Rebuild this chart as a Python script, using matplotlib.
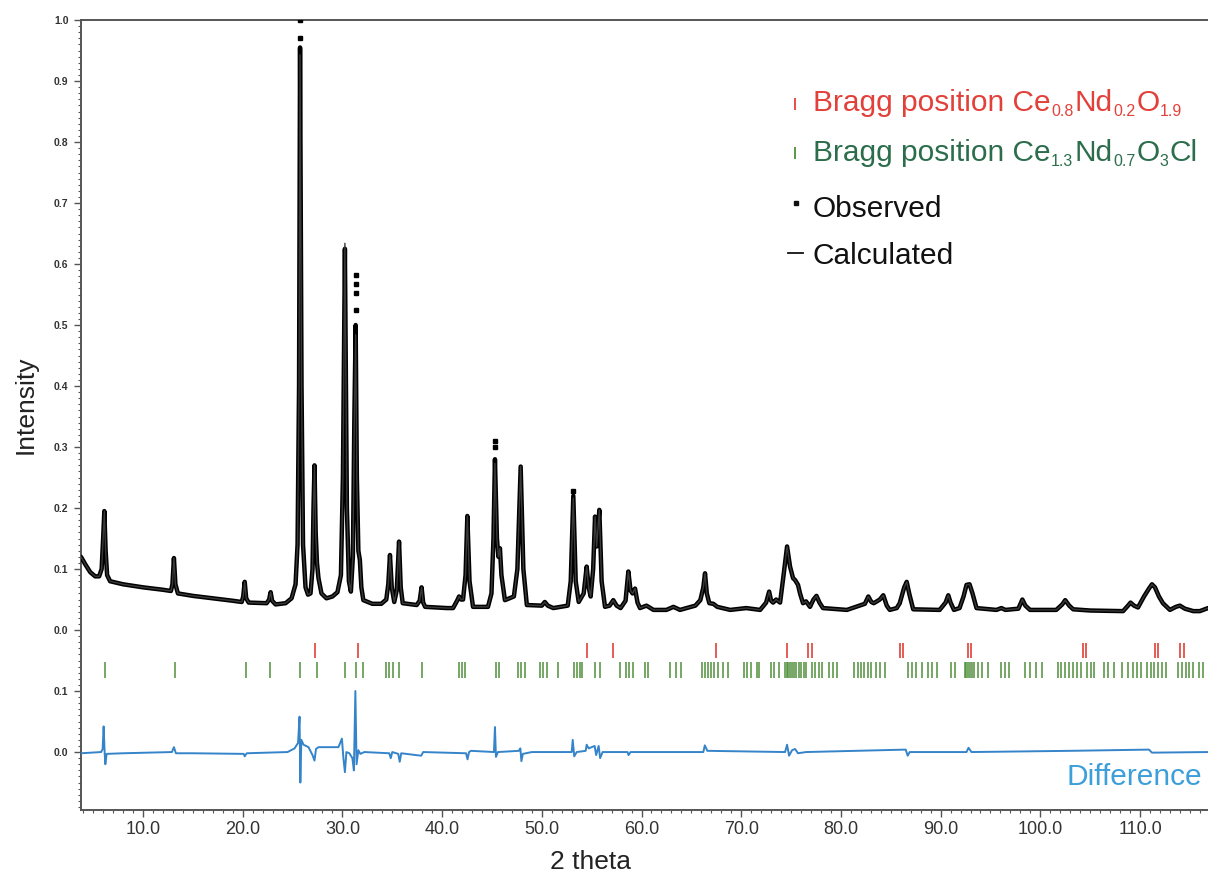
import matplotlib
matplotlib.use("Agg")
import matplotlib.pyplot as plt
from matplotlib.ticker import MultipleLocator, FixedLocator, FixedFormatter
import numpy as np

plt.rcParams['font.family'] = ['Liberation Sans', 'DejaVu Sans']

# ---------------- data ----------------
two_theta = [3.78, 4.2, 4.7, 5.2, 5.6, 5.85, 6.0, 6.12, 6.25, 6.4, 6.7, 8.0, 10.0, 12.0, 12.8, 12.95,
             13.1, 13.25, 13.5, 15.0, 17.0, 19.0, 19.9, 20.05, 20.2, 20.35, 20.6, 22.4, 22.65, 22.8,
             22.95, 23.3, 24.3, 24.9, 25.3, 25.5, 25.65, 25.75, 25.9, 26.05, 26.3, 26.55, 26.8, 27.0,
             27.1, 27.2, 27.32, 27.45, 27.6, 27.9, 28.4, 29.0, 29.5, 29.85, 30.05, 30.25, 30.45, 30.65,
             30.85, 31.05, 31.2, 31.33, 31.45, 31.6, 31.75, 31.9, 32.1, 33.0, 33.9, 34.4, 34.6, 34.77,
             34.95, 35.2, 35.45, 35.68, 35.85, 36.05, 37.45, 37.75, 37.94, 38.1, 38.3, 40.5, 41.1, 41.5,
             41.7, 41.9, 42.1, 42.35, 42.53, 42.75, 43.1, 44.6, 44.95, 45.15, 45.3, 45.5, 45.65, 45.8,
             45.95, 46.3, 47.2, 47.55, 47.88, 48.15, 48.5, 50.0, 50.3, 50.6, 51.15, 52.6, 52.9, 53.16,
             53.4, 53.7, 54.2, 54.5, 54.7, 54.9, 55.15, 55.34, 55.5, 55.77, 56.0, 56.34, 56.8, 57.17,
             57.5, 57.9, 58.4, 58.68, 58.9, 59.1, 59.35, 59.6, 59.85, 60.5, 61.2, 62.5, 63.2, 63.86,
             65.4, 65.9, 66.2, 66.37, 66.55, 66.8, 67.2, 67.6, 68.9, 70.5, 71.9, 72.5, 72.8, 73.0,
             73.2, 73.5, 73.9, 74.25, 74.6, 74.9, 75.2, 75.4, 75.7, 75.9, 76.2, 76.5, 76.9, 77.25,
             77.55, 77.85, 78.2, 80.6, 82.4, 82.75, 83.05, 83.3, 83.9, 84.25, 84.6, 84.9, 85.6, 85.9,
             86.35, 86.6, 86.85, 87.25, 89.9, 90.5, 90.77, 91.0, 91.34, 91.9, 92.3, 92.6, 92.9, 93.2,
             93.6, 95.6, 96.1, 96.5, 97.8, 98.2, 98.5, 98.97, 101.6, 102.2, 102.5, 102.9, 103.3, 105.0,
             108.3, 108.8, 109.05, 109.4, 109.8, 110.4, 110.9, 111.2, 111.5, 111.9, 112.3, 113.0, 113.6,
             114.0, 114.5, 115.35, 116.0, 116.82]

calculated = [0.120, 0.108, 0.095, 0.088, 0.088, 0.100, 0.150, 0.195, 0.130, 0.090, 0.080, 0.075, 0.070,
              0.066, 0.064, 0.075, 0.118, 0.075, 0.060, 0.056, 0.052, 0.048, 0.046, 0.055, 0.079, 0.052,
              0.045, 0.044, 0.050, 0.062, 0.048, 0.042, 0.044, 0.052, 0.075, 0.140, 0.400, 0.943, 0.400,
              0.140, 0.070, 0.058, 0.060, 0.100, 0.200, 0.270, 0.160, 0.110, 0.085, 0.060, 0.052, 0.055,
              0.062, 0.090, 0.250, 0.634, 0.200, 0.080, 0.063, 0.120, 0.350, 0.484, 0.250, 0.130, 0.115,
              0.070, 0.049, 0.043, 0.043, 0.050, 0.075, 0.123, 0.070, 0.046, 0.065, 0.145, 0.070, 0.044,
              0.041, 0.048, 0.070, 0.045, 0.038, 0.036, 0.036, 0.048, 0.055, 0.050, 0.050, 0.090, 0.187,
              0.080, 0.038, 0.038, 0.060, 0.150, 0.273, 0.150, 0.120, 0.134, 0.090, 0.049, 0.055, 0.100,
              0.268, 0.100, 0.041, 0.040, 0.046, 0.040, 0.036, 0.040, 0.080, 0.216, 0.080, 0.046, 0.060,
              0.104, 0.070, 0.055, 0.100, 0.186, 0.137, 0.197, 0.080, 0.038, 0.040, 0.049, 0.040, 0.036,
              0.048, 0.096, 0.065, 0.060, 0.068, 0.045, 0.036, 0.040, 0.033, 0.033, 0.038, 0.033, 0.040,
              0.049, 0.070, 0.093, 0.060, 0.044, 0.043, 0.038, 0.033, 0.036, 0.033, 0.045, 0.063, 0.048,
              0.045, 0.050, 0.045, 0.090, 0.137, 0.104, 0.085, 0.082, 0.074, 0.060, 0.044, 0.047, 0.038,
              0.050, 0.056, 0.045, 0.036, 0.033, 0.043, 0.055, 0.046, 0.044, 0.050, 0.057, 0.040, 0.033,
              0.036, 0.044, 0.070, 0.079, 0.060, 0.034, 0.033, 0.045, 0.057, 0.045, 0.033, 0.036, 0.055,
              0.074, 0.075, 0.060, 0.036, 0.033, 0.036, 0.033, 0.035, 0.050, 0.040, 0.033, 0.033, 0.042,
              0.049, 0.040, 0.034, 0.032, 0.031, 0.040, 0.045, 0.040, 0.037, 0.055, 0.068, 0.075, 0.070,
              0.055, 0.044, 0.033, 0.038, 0.040, 0.035, 0.031, 0.031, 0.036]

# observed intensities: same sampling, differ from calculated at several peak tops
observed = list(calculated)
obs_tops = {25.75: 0.955, 30.25: 0.625, 31.33: 0.50, 45.3: 0.28, 53.16: 0.22}
for k, v in obs_tops.items():
    observed[two_theta.index(k)] = v
extra_obs_x = [25.75, 25.75, 31.33, 31.33, 31.33, 31.33, 45.3, 45.3, 53.16]
extra_obs_y = [1.0, 0.97, 0.582, 0.567, 0.552, 0.525, 0.30, 0.31, 0.228]

diff_theta = [3.78, 5.8, 5.95, 6.05, 6.15, 6.22, 6.35, 8.0, 12.9, 13.1, 13.3, 15.0, 20.1, 20.2, 20.4,
              24.5, 25.2, 25.55, 25.7, 25.78, 25.88, 26.1, 26.6, 27.0, 27.2, 27.35, 27.6, 29.6, 29.95,
              30.1, 30.25, 30.4, 30.7, 31.0, 31.15, 31.3, 31.42, 31.6, 31.8, 32.2, 34.7, 34.85, 35.0,
              35.6, 35.75, 35.9, 37.9, 38.1, 42.4, 42.55, 42.7, 42.9, 45.2, 45.3, 45.4, 45.6, 47.7,
              47.85, 47.95, 48.1, 49.0, 53.0, 53.1, 53.25, 53.5, 54.4, 54.5, 54.7, 55.3, 55.45, 55.7,
              55.85, 56.1, 58.6, 58.7, 58.9, 66.2, 66.35, 66.6, 74.4, 74.6, 74.8, 75.1, 75.4, 75.7,
              76.5, 86.5, 86.7, 86.9, 92.6, 92.8, 93.1, 103.0, 110.9, 111.2, 116.82]
difference = [-0.002, 0.0, 0.005, 0.042, 0.0, -0.02, -0.003, -0.002, 0.0, 0.008, -0.002, -0.002, -0.003,
              -0.007, -0.002, 0.0, 0.006, 0.015, 0.058, -0.05, 0.02, 0.012, 0.008, -0.005, -0.014, 0.005,
              0.008, 0.008, 0.022, -0.01, -0.033, 0.0, -0.002, -0.01, -0.03, 0.1, -0.02, 0.003, -0.003,
              0.0, -0.002, -0.01, 0.0, -0.003, -0.016, -0.002, -0.006, 0.0, -0.002, -0.012, 0.0, 0.002,
              0.0, 0.041, -0.008, 0.0, 0.002, 0.006, -0.015, -0.003, 0.0, 0.0, 0.02, -0.007, 0.0, 0.002,
              0.012, 0.006, 0.01, -0.005, 0.01, -0.01, 0.0, 0.0, -0.005, 0.0, 0.0, 0.011, 0.002, 0.0,
              0.012, -0.006, 0.003, 0.005, -0.002, 0.0, 0.004, -0.006, 0.0, 0.0, 0.007, 0.0, 0.002,
              0.004, -0.001, 0.0]

bragg_phase1 = [27.25, 31.56, 54.53, 57.14, 67.47, 74.6, 76.72, 77.06, 85.96, 86.26, 92.75, 93.05,
                104.28, 104.58, 111.5, 111.8, 114.0, 114.4]
bragg_phase2 = [6.17, 13.19, 20.29, 22.71, 25.78, 27.47, 30.27, 31.34, 32.04, 34.38, 34.68, 35.07, 35.65,
                37.95, 41.67, 41.98, 42.29, 45.36, 45.74, 47.63, 47.93, 48.31, 49.85, 50.12, 50.5, 51.66,
                53.23, 53.49, 53.88, 54.07, 55.34, 55.88, 57.83, 58.4, 58.79, 59.14, 60.4,
                60.7, 62.84, 63.42, 64.01, 66.03, 66.34, 66.65, 66.92, 67.31, 67.7, 68.21, 68.67, 70.31,
                70.62, 71.01, 71.59, 71.78, 72.95, 73.26, 73.81, 74.43, 74.58, 74.74, 74.9, 75.09, 75.29,
                75.48, 75.75, 75.99, 76.26, 76.45, 77.15, 77.42, 77.81, 78.08, 78.79, 79.17, 79.64, 81.31,
                81.7, 81.97, 82.36, 82.67, 83.06, 83.53, 83.92, 84.42, 86.76, 87.15, 87.54, 88.12, 88.7,
                89.09, 89.67, 91.04, 91.42, 92.4, 92.59, 92.79, 92.98, 93.17, 93.37, 93.76, 94.15, 94.73,
                96.09, 96.48, 96.87, 98.42, 99.01, 99.59, 100.17, 101.73, 102.12, 102.51, 102.9, 103.29,
                103.68, 104.06, 104.65, 105.04, 105.42, 106.4, 106.79, 107.37, 108.15, 108.81, 109.31,
                109.7, 110.09, 110.67, 111.06, 111.45, 111.84, 112.23, 112.62, 113.79, 114.18, 114.57,
                114.96, 115.34, 115.93, 116.31]

x_ticks = [10, 20, 30, 40, 50, 60, 70, 80, 90, 100, 110]
y_ticks = [-0.2, -0.1, 0.0, 0.1, 0.2, 0.3, 0.4, 0.5, 0.6, 0.7, 0.8, 0.9, 1.0]
y_tick_labels = ["0.0", "0.1", "0.0", "0.1", "0.2", "0.3", "0.4", "0.5", "0.6", "0.7", "0.8", "0.9", "1.0"]

legend_phase1 = [("Bragg position Ce", False), ("0.8", True), ("Nd", False), ("0.2", True),
                 ("O", False), ("1.9", True)]
legend_phase2 = [("Bragg position Ce", False), ("1.3", True), ("Nd", False), ("0.7", True),
                 ("O", False), ("3", True), ("Cl", False)]

# ---------------- styling / layout ----------------
DIFF_OFFSET = -0.2
RED_TICK = (-0.021, -0.046)
GREEN_TICK = (-0.052, -0.078)
RED = '#e2413a'
GREEN_TICK_C = '#4f8f3c'
GREEN_TEXT = '#2c6e4c'
W, H = 1208, 877

fig = plt.figure(figsize=(W / 100, H / 100), dpi=100)
ax = fig.add_axes([81 / W, 1 - 810 / H, 1 - 81 / W, (810 - 20) / H])

ax.plot(two_theta, observed, color='black', lw=3.2, solid_joinstyle='round', solid_capstyle='round',
        zorder=3)
ax.plot(extra_obs_x, extra_obs_y, 's', color='black', ms=2.4, zorder=3)
ax.plot(two_theta, calculated, color='#3a3a3a', lw=1.0, zorder=4)

ax.vlines(bragg_phase1, RED_TICK[0], RED_TICK[1], color=RED, lw=1.2, zorder=2)
ax.vlines(bragg_phase2, GREEN_TICK[0], GREEN_TICK[1], color=GREEN_TICK_C, lw=1.1, zorder=2)

ax.plot(diff_theta, np.array(difference) + DIFF_OFFSET, color='#3584c9', lw=1.4, zorder=3)

ax.set_xlim(3.78, 116.82)
ax.set_ylim(-0.295, 1.0)

ax.xaxis.set_major_locator(FixedLocator(x_ticks))
ax.set_xticklabels([f"{v:.1f}" for v in x_ticks])
ax.xaxis.set_minor_locator(MultipleLocator(1))
ax.yaxis.set_major_locator(FixedLocator(y_ticks))
ax.yaxis.set_major_formatter(FixedFormatter(y_tick_labels))
ax.yaxis.set_minor_locator(MultipleLocator(0.01))

ax.tick_params(axis='x', which='major', direction='out', length=5, width=1.0, color='#555555',
               labelsize=13, labelcolor='#333333', pad=3)
ax.tick_params(axis='x', which='minor', direction='out', length=2.5, width=0.8, color='#555555')
ax.tick_params(axis='y', which='major', direction='out', length=5, width=1.0, color='#555555',
               labelsize=7.5, labelcolor='#333333', pad=4)
ax.tick_params(axis='y', which='minor', direction='out', length=2.5, width=0.8, color='#555555')
for lab in ax.get_yticklabels():
    lab.set_fontweight('bold')

for s in ['left', 'bottom', 'top']:
    ax.spines[s].set_color('#555555')
    ax.spines[s].set_linewidth(1.4)
ax.spines['right'].set_visible(False)

fig.text(590 / W, 1 - 862 / H, "2 theta", ha='center', va='center', fontsize=19, color='#222222')
fig.text(26 / W, 1 - 405 / H, "Intensity", ha='center', va='center', rotation=90, fontsize=19,
         color='#222222')

# legend (manual) with small dropped subscripts
leg_fs = 21.5
sub_fs = 11.5
renderer = fig.canvas.get_renderer()


def chem_text(x_px, base_px, parts, color):
    x = x_px
    for s, is_sub in parts:
        fs = sub_fs if is_sub else leg_fs
        y = base_px + (5 if is_sub else 0)
        t = fig.text(x / W, 1 - y / H, s, color=color, fontsize=fs, va='baseline', ha='left')
        bb = t.get_window_extent(renderer=renderer)
        x += bb.width + (1.0 if is_sub else 0.5)


tx = 813
chem_text(tx, 111, legend_phase1, RED)
chem_text(tx, 161, legend_phase2, GREEN_TEXT)
fig.text(tx / W, 1 - 217 / H, "Observed", color='#111111', fontsize=leg_fs, va='baseline', ha='left')
fig.text(tx / W, 1 - 264 / H, "Calculated", color='#111111', fontsize=leg_fs, va='baseline', ha='left')
ax.plot([795 / W], [1 - 104 / H], marker='|', ms=9, mew=1.3, color=RED, transform=fig.transFigure,
        clip_on=False)
ax.plot([795 / W], [1 - 153 / H], marker='|', ms=9, mew=1.3, color=GREEN_TICK_C,
        transform=fig.transFigure, clip_on=False)
ax.plot([796 / W], [1 - 203 / H], marker='s', ms=3, color='#111111', transform=fig.transFigure,
        clip_on=False)
ax.plot([788 / W, 803 / W], [1 - 253 / H, 1 - 253 / H], color='#111111', lw=1.3,
        transform=fig.transFigure, clip_on=False)

fig.text(1202 / W, 1 - 785 / H, "Difference", color='#3d9fd9', fontsize=leg_fs, va='baseline', ha='right')

fig.savefig("out.png", dpi=100, facecolor='white')
